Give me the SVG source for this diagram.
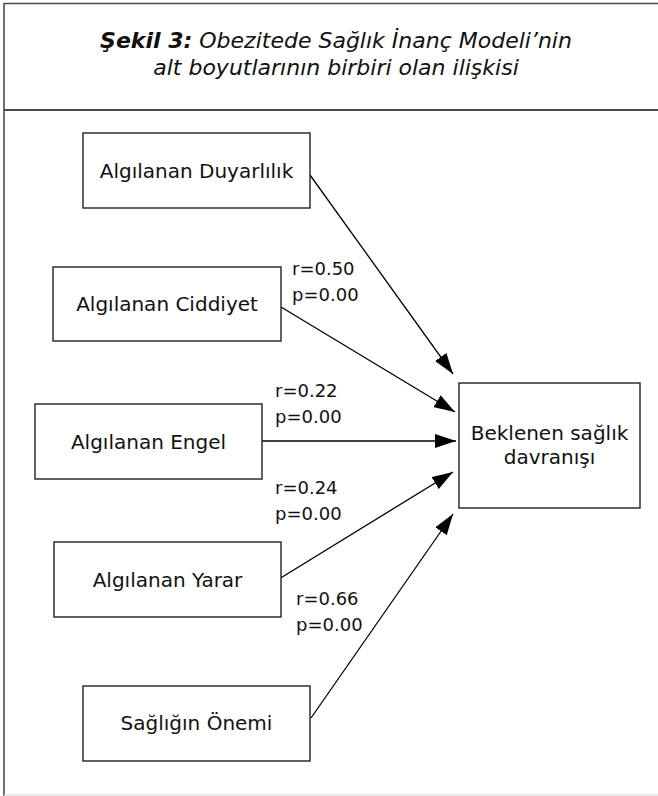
<svg xmlns="http://www.w3.org/2000/svg" width="658" height="796" viewBox="0 0 658 796">
<style>
.frame{fill:none;stroke:#4a4a4a;stroke-width:1.6}
.box{fill:#fff;stroke:#222;stroke-width:1.4}
.lbl{font-family:"DejaVu Sans","Liberation Sans",sans-serif;font-size:20px;fill:#111;text-anchor:middle}
.num{font-family:"DejaVu Sans","Liberation Sans",sans-serif;font-size:18px;fill:#111}
.title{font-family:"DejaVu Sans","Liberation Sans",sans-serif;font-size:22px;font-style:italic;fill:#111;text-anchor:middle}
.conn{stroke:#000;stroke-width:1.3;fill:none;marker-end:url(#ah)}
</style>
<defs>
<marker id="ah" markerUnits="userSpaceOnUse" markerWidth="21" markerHeight="14" refX="21" refY="7" orient="auto">
<path d="M0,0 L21,7 L0,14 z" fill="#000"/>
</marker>
</defs>
<rect width="658" height="796" fill="#fff"/>
<g id="frame">
<line class="frame" x1="4" y1="3" x2="4" y2="796"/>
<line class="frame" x1="4" y1="3.5" x2="658" y2="3.5"/>
<line x1="4" y1="110" x2="658" y2="110" stroke="#4a4a4a" stroke-width="2"/>
<line x1="4" y1="795" x2="658" y2="795" stroke="#e2e2e2" stroke-width="1.5"/>
</g>
<g id="title">
<text class="title" x="336" y="48"><tspan font-weight="bold">Şekil 3:</tspan> Obezitede Sağlık İnanç Modeli’nin</text>
<text class="title" x="336" y="75">alt boyutlarının birbiri olan ilişkisi</text>
</g>
<g id="connectors">
<line class="conn" x1="310" y1="175" x2="453" y2="374"/>
<line class="conn" x1="281" y1="307" x2="455" y2="412"/>
<line class="conn" x1="262" y1="441" x2="456" y2="441"/>
<line class="conn" x1="279" y1="579" x2="453" y2="472"/>
<line class="conn" x1="311" y1="718" x2="453" y2="514"/>
<text class="num" x="292" y="275">r=0.50</text>
<text class="num" x="292" y="301">p=0.00</text>
<text class="num" x="275" y="397">r=0.22</text>
<text class="num" x="275" y="423">p=0.00</text>
<text class="num" x="275" y="494">r=0.24</text>
<text class="num" x="275" y="520">p=0.00</text>
<text class="num" x="296" y="605">r=0.66</text>
<text class="num" x="296" y="631">p=0.00</text>
</g>
<g id="n1">
<rect class="box" x="83" y="133" width="227" height="75"/>
<text class="lbl" x="196.5" y="177.5">Algılanan Duyarlılık</text>
</g>
<g id="n2">
<rect class="box" x="53" y="267" width="228" height="74"/>
<text class="lbl" x="167" y="310.5">Algılanan Ciddiyet</text>
</g>
<g id="n3">
<rect class="box" x="35" y="404" width="227" height="75"/>
<text class="lbl" x="148.5" y="448.5">Algılanan Engel</text>
</g>
<g id="n4">
<rect class="box" x="54" y="542" width="227" height="75"/>
<text class="lbl" x="167.5" y="586.5">Algılanan Yarar</text>
</g>
<g id="n5">
<rect class="box" x="83" y="686" width="227" height="75"/>
<text class="lbl" x="196.5" y="729.5">Sağlığın Önemi</text>
</g>
<g id="n6">
<rect class="box" x="459" y="383" width="181" height="125"/>
<text class="lbl" x="549.5" y="440">Beklenen sağlık</text>
<text class="lbl" x="549.5" y="464">davranışı</text>
</g>
</svg>
